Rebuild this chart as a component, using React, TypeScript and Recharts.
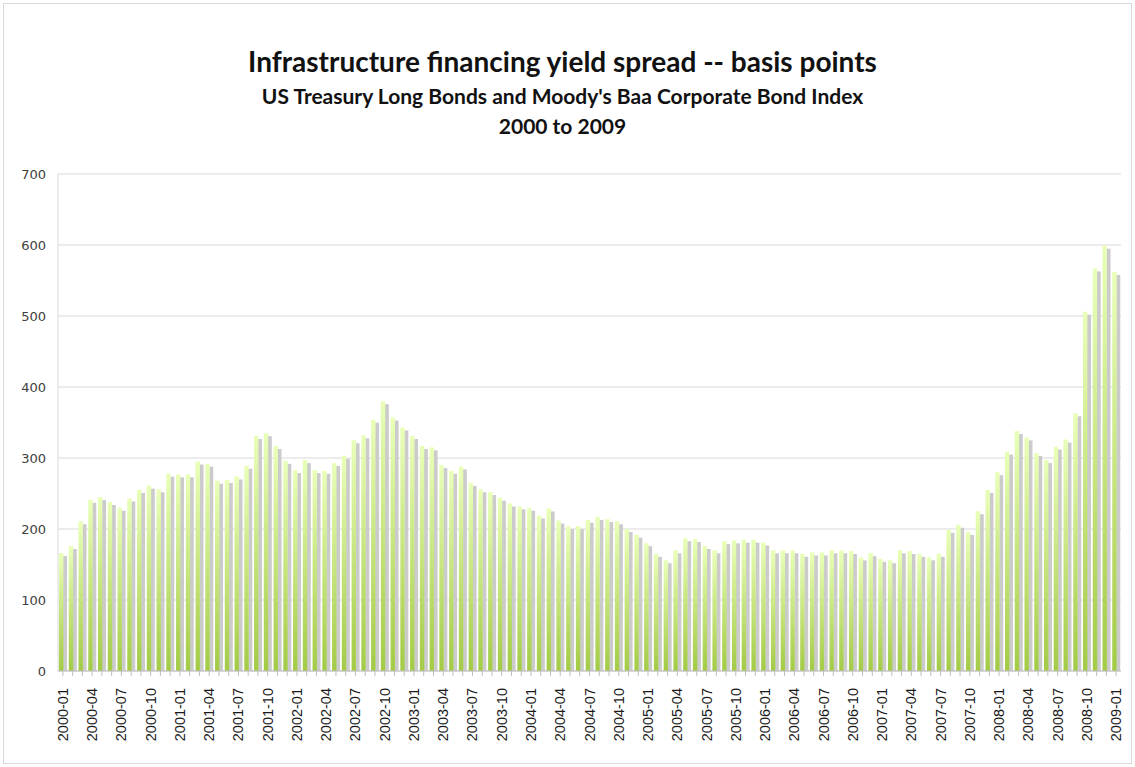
import React from "react";
import { Bar, BarChart, CartesianGrid, XAxis, YAxis } from "recharts";

// monthly spread, basis points
const y2000 = [166, 176, 211, 241, 245, 238, 230, 243, 255, 261, 256, 278];
const y2001 = [277, 277, 295, 292, 268, 269, 274, 289, 331, 335, 317, 296];
const y2002 = [283, 297, 283, 282, 293, 303, 325, 332, 354, 380, 357, 343];
const y2003 = [331, 317, 315, 290, 282, 288, 265, 256, 252, 244, 236, 232];
const y2004 = [230, 219, 229, 212, 204, 204, 213, 217, 214, 211, 200, 192];
const y2005 = [180, 165, 156, 170, 187, 186, 176, 170, 183, 184, 185, 185];
const y2006 = [181, 170, 170, 170, 165, 167, 167, 170, 170, 169, 160, 166];
const y2007 = [158, 156, 170, 169, 165, 160, 165, 199, 206, 196, 225, 255];
const y2008 = [280, 309, 338, 329, 307, 297, 316, 326, 363, 506, 567, 599];
const y2009 = [562];

const years = [2000, 2001, 2002, 2003, 2004, 2005, 2006, 2007, 2008, 2009];
const yearValues = [y2000, y2001, y2002, y2003, y2004, y2005, y2006, y2007, y2008, y2009];
const months = ["01", "02", "03", "04", "05", "06", "07", "08", "09", "10", "11", "12"];
const yTicks = [0, 100, 200, 300, 400, 500, 600, 700];

const data = years.flatMap((yr, i) =>
  yearValues[i].map((v, m) => ({ month: `${yr}-${months[m]}`, spread: v }))
);

const ShadowBar = (props: any) => {
  const { x, y, width, height } = props;
  if (!height || height <= 0) return null;
  const gw = width * 0.55;
  return (
    <g>
      <rect x={x + width * 0.5} y={y + 3} width={width * 0.5} height={height - 3} fill="#cbcbcb" />
      <rect x={x} y={y} width={gw} height={height} fill="url(#greenFade)" />
    </g>
  );
};

const MonthTick = (props: any) => {
  const { x, y, payload, index } = props;
  if (index % 3 !== 0) return null;
  return (
    <text
      x={x}
      y={y + 10}
      transform={`rotate(-90, ${x}, ${y + 10})`}
      textAnchor="end"
      dominantBaseline="central"
      fontFamily="'Liberation Sans', Arial, sans-serif"
      fontSize={14.5}
      fill="#1a1a1a"
    >
      {payload.value}
    </text>
  );
};

const titleFont = "Lato, 'Open Sans', sans-serif";

export default function App() {
  return (
    <div style={{ position: "absolute", left: 0, top: 0, width: 1135, height: 767, background: "#fff" }}>
      <div
        style={{
          position: "absolute",
          left: 3,
          top: 3,
          width: 1127,
          height: 759,
          border: "1px solid #d9d9d9",
        }}
      />
      <div style={{ position: "absolute", left: 0, top: 42, width: 1125, textAlign: "center", fontFamily: titleFont }}>
        <div style={{ fontSize: 28, fontWeight: 700, lineHeight: "38px", color: "#111" }}>
          Infrastructure financing yield spread -- basis points
        </div>
        <div style={{ fontSize: 21, fontWeight: 700, lineHeight: "32px", color: "#111" }}>
          US Treasury Long Bonds and Moody's Baa Corporate Bond Index
        </div>
        <div style={{ fontSize: 21, fontWeight: 700, lineHeight: "28px", color: "#111" }}>2000 to 2009</div>
      </div>
      <div style={{ position: "absolute", left: 0, top: 0 }}>
        <BarChart
          width={1135}
          height={767}
          data={data}
          barSize={8}
          margin={{ top: 174, right: 14, left: 8, bottom: 10 }}
        >
          <defs>
            <linearGradient id="greenFade" x1="0" y1="0" x2="0" y2="1">
              <stop offset="0%" stopColor="#e9ffb9" />
              <stop offset="100%" stopColor="#a3cb45" />
            </linearGradient>
          </defs>
          <CartesianGrid vertical={false} stroke="#d9d9d9" />
          <XAxis
            dataKey="month"
            interval={0}
            tick={<MonthTick />}
            tickSize={5}
            height={86}
            axisLine={{ stroke: "#bfbfbf" }}
            tickLine={{ stroke: "#bfbfbf" }}
          />
          <YAxis
            domain={[0, 700]}
            ticks={yTicks}
            width={50}
            tickLine={false}
            axisLine={{ stroke: "#d9d9d9" }}
            tick={{ fontSize: 13, fill: "#404040", fontFamily: "'DejaVu Sans', Verdana, sans-serif", dx: -4 }}
          />
          <Bar dataKey="spread" shape={<ShadowBar />} isAnimationActive={false} />
        </BarChart>
      </div>
    </div>
  );
}
